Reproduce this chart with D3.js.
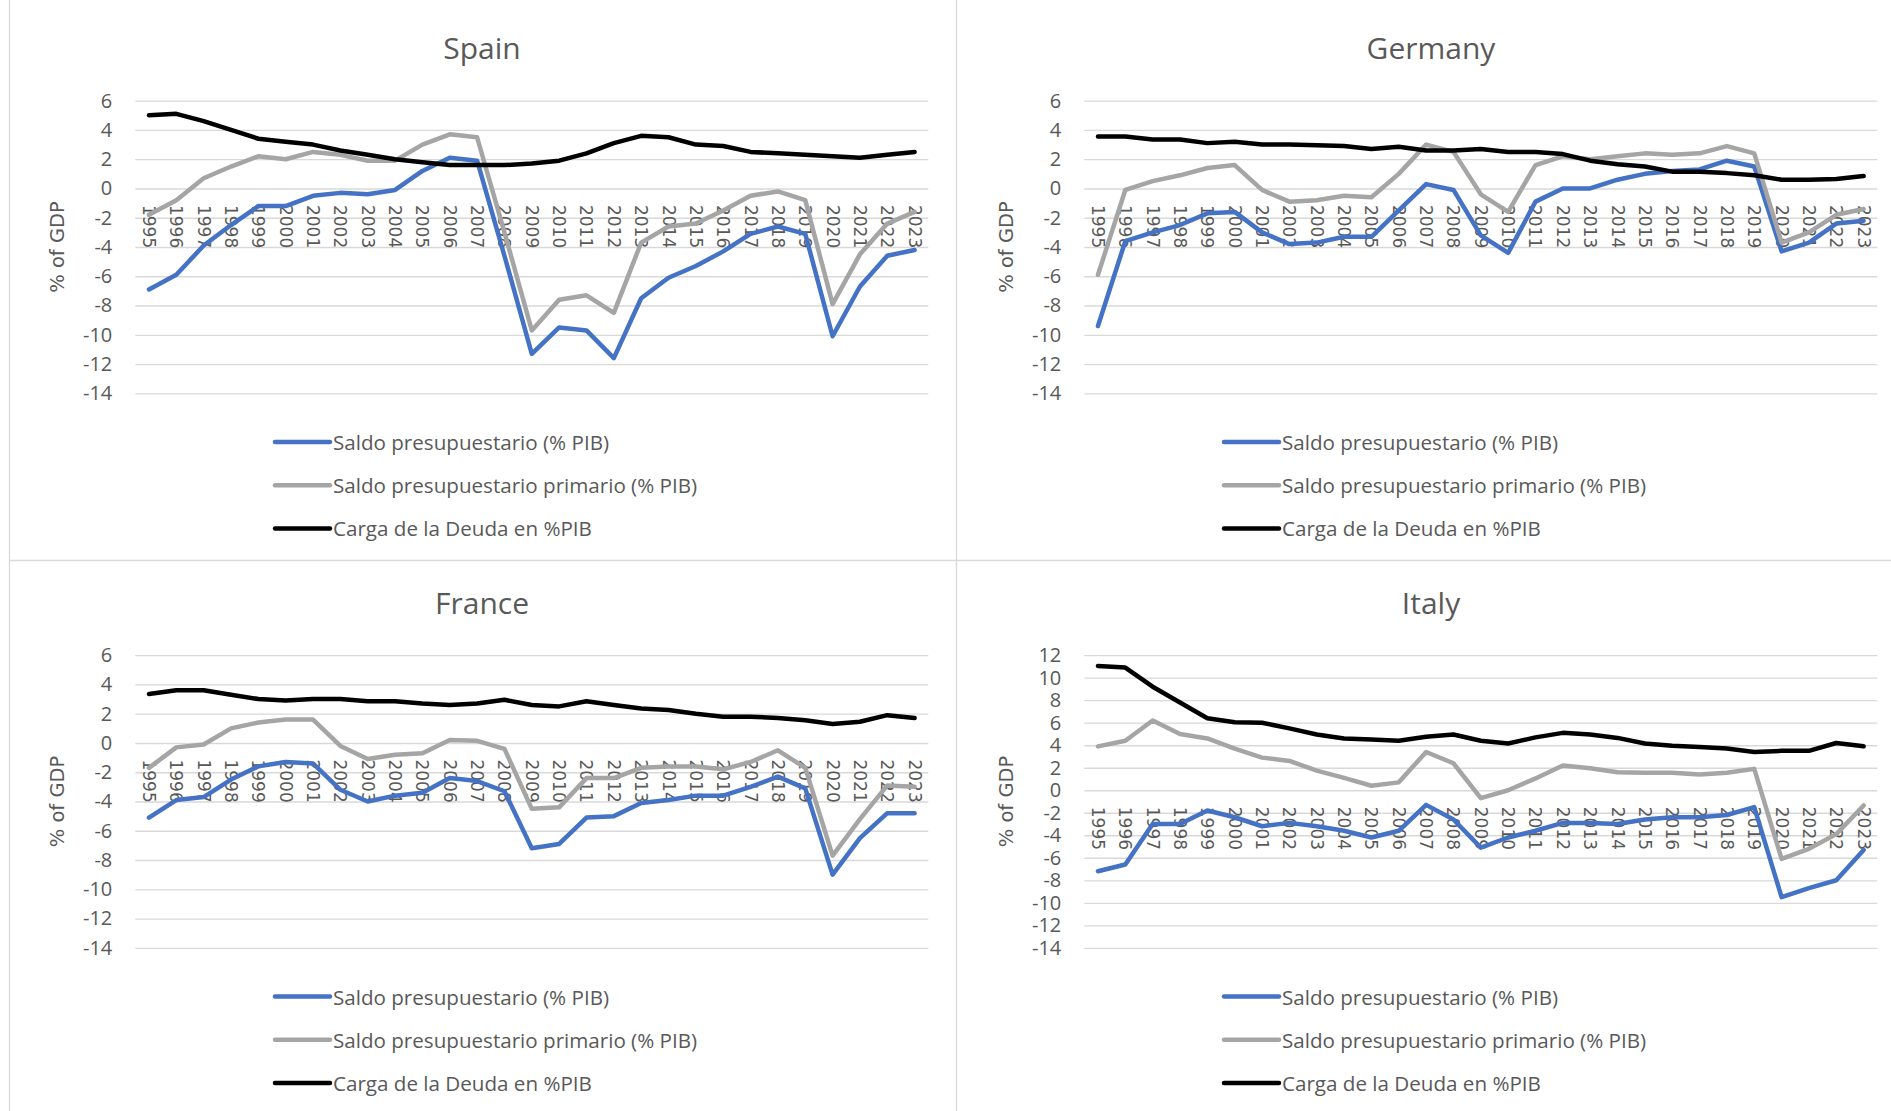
<!DOCTYPE html>
<html>
	<head>
		<meta charset="utf-8">
		<style type="text/css">
			body { margin: 0; background: white; }
			svg  { display: block; }
		</style>
		<title>Saldo presupuestario</title>
	</head>
	<body>
		<script src="https://cdn.jsdelivr.net/npm/d3@7"></script>
		<script>

// data ////////////////////////////////////////////////////////////////////

var years = d3.range(1995, 2024).map(String);

var seriesNames = [
	'Saldo presupuestario (% PIB)',
	'Saldo presupuestario primario (% PIB)',
	'Carga de la Deuda en %PIB',
];

var spainSaldo    = [-6.9, -5.9, -3.9, -2.5, -1.2, -1.2, -0.5, -0.3, -0.4, -0.1, 1.2, 2.1, 1.9, -4.6, -11.3, -9.5, -9.7, -11.6, -7.5, -6.1, -5.3, -4.3, -3.1, -2.6, -3.1, -10.1, -6.7, -4.6, -4.2];
var spainPrimario = [-1.8, -0.8, 0.7, 1.5, 2.2, 2.0, 2.5, 2.3, 1.9, 1.9, 3.0, 3.7, 3.5, -3.0, -9.7, -7.6, -7.3, -8.5, -3.7, -2.6, -2.4, -1.5, -0.5, -0.2, -0.8, -7.9, -4.5, -2.4, -1.6];
var spainCarga    = [5.0, 5.1, 4.6, 4.0, 3.4, 3.2, 3.0, 2.6, 2.3, 2.0, 1.8, 1.6, 1.6, 1.6, 1.7, 1.9, 2.4, 3.1, 3.6, 3.5, 3.0, 2.9, 2.5, 2.4, 2.3, 2.2, 2.1, 2.3, 2.5];

var germanySaldo    = [-9.4, -3.6, -3.0, -2.5, -1.7, -1.6, -3.0, -3.8, -3.7, -3.3, -3.3, -1.5, 0.3, -0.1, -3.2, -4.4, -0.9, 0.0, 0.0, 0.6, 1.0, 1.2, 1.3, 1.9, 1.5, -4.3, -3.7, -2.4, -2.2];
var germanyPrimario = [-5.9, -0.1, 0.5, 0.9, 1.4, 1.6, -0.1, -0.9, -0.8, -0.5, -0.6, 1.0, 3.0, 2.5, -0.4, -1.6, 1.6, 2.2, 2.0, 2.2, 2.4, 2.3, 2.4, 2.9, 2.4, -3.7, -3.0, -1.8, -1.4];
var germanyCarga    = [3.55, 3.55, 3.35, 3.35, 3.1, 3.2, 3.0, 3.0, 2.95, 2.9, 2.7, 2.85, 2.6, 2.6, 2.7, 2.5, 2.5, 2.35, 1.9, 1.65, 1.5, 1.15, 1.15, 1.05, 0.9, 0.6, 0.6, 0.65, 0.85];

var franceSaldo    = [-5.1, -3.9, -3.7, -2.5, -1.6, -1.3, -1.4, -3.2, -4.0, -3.6, -3.4, -2.4, -2.6, -3.3, -7.2, -6.9, -5.1, -5.0, -4.1, -3.9, -3.6, -3.6, -3.0, -2.3, -3.1, -9.0, -6.5, -4.8, -4.8];
var francePrimario = [-1.7, -0.3, -0.1, 1.0, 1.4, 1.6, 1.6, -0.2, -1.1, -0.8, -0.7, 0.2, 0.15, -0.4, -4.5, -4.4, -2.4, -2.4, -1.7, -1.6, -1.6, -1.8, -1.3, -0.5, -1.7, -7.7, -5.2, -2.9, -3.0];
var franceCarga    = [3.35, 3.6, 3.6, 3.3, 3.0, 2.9, 3.0, 3.0, 2.85, 2.85, 2.7, 2.6, 2.7, 2.95, 2.6, 2.5, 2.85, 2.6, 2.35, 2.25, 2.0, 1.8, 1.8, 1.7, 1.55, 1.3, 1.45, 1.9, 1.7];

var italySaldo    = [-7.2, -6.6, -3.0, -3.0, -1.8, -2.4, -3.2, -2.9, -3.2, -3.6, -4.2, -3.6, -1.3, -2.6, -5.1, -4.2, -3.6, -2.9, -2.9, -3.0, -2.6, -2.4, -2.4, -2.2, -1.5, -9.5, -8.7, -8.0, -5.3];
var italyPrimario = [3.9, 4.4, 6.2, 5.0, 4.6, 3.7, 2.9, 2.6, 1.75, 1.1, 0.4, 0.7, 3.4, 2.4, -0.7, 0.0, 1.05, 2.2, 1.95, 1.6, 1.55, 1.55, 1.4, 1.55, 1.9, -6.1, -5.2, -3.9, -1.35];
var italyCarga    = [11.05, 10.9, 9.2, 7.8, 6.4, 6.05, 6.0, 5.5, 4.95, 4.6, 4.5, 4.4, 4.75, 4.95, 4.4, 4.15, 4.7, 5.1, 4.95, 4.65, 4.15, 3.95, 3.85, 3.7, 3.4, 3.5, 3.5, 4.2, 3.9];

var ticksSmall = d3.range(-14, 7, 2);
var ticksLarge = d3.range(-14, 13, 2);

var panels = [
	{title: 'Spain',   col: 0, row: 0, ticks: ticksSmall, series: [spainSaldo, spainPrimario, spainCarga]},
	{title: 'Germany', col: 1, row: 0, ticks: ticksSmall, series: [germanySaldo, germanyPrimario, germanyCarga]},
	{title: 'France',  col: 0, row: 1, ticks: ticksSmall, series: [franceSaldo, francePrimario, franceCarga]},
	{title: 'Italy',   col: 1, row: 1, ticks: ticksLarge, series: [italySaldo, italyPrimario, italyCarga]},
];

// layout ///////////////////////////////////////////////////////////////////

var width = 1891, height = 1111;
var colStep = 949, rowStep = 554.5;
var colors = ['#4472C4', '#A5A5A5', '#000000'];
var textColor = '#595959';
var gridColor = '#D9D9D9';
var sansFont = "'Open Sans', 'Noto Sans', sans-serif";

var x0 = 135.3, x1 = 928.3,
    y0 = 393.3, y1 = 100.7;

var svg = d3.select('body').append('svg')
	.attr('width', width)
	.attr('height', height);

// chart borders
svg.append('g')
	.attr('stroke', gridColor)
	.attr('stroke-width', 1.3)
	.call(g => {
		g.append('line').attr('x1', 9.5).attr('x2', 9.5).attr('y1', 0).attr('y2', height);
		g.append('line').attr('x1', 956.5).attr('x2', 956.5).attr('y1', 0).attr('y2', height);
		g.append('line').attr('x1', 9.5).attr('x2', width).attr('y1', 560.5).attr('y2', 560.5);
	});

var x = d3.scalePoint()
	.domain(years)
	.range([x0, x1])
	.padding(0.5);

panels.forEach(p => {

	var plot = svg.append('g')
		.attr('transform', `translate(${p.col * colStep},${p.row * rowStep})`);

	var y = d3.scaleLinear()
		.domain(d3.extent(p.ticks))
		.range([y0, y1]);

	// title
	plot.append('text')
		.attr('x', 482)
		.attr('y', 59)
		.attr('text-anchor', 'middle')
		.attr('font-family', sansFont)
		.attr('font-size', 30)
		.attr('fill', textColor)
		.text(p.title);

	// value axis & grid
	plot.append('g')
		.attr('transform', `translate(${x0},0)`)
		.call(d3.axisLeft(y)
			.tickValues(p.ticks)
			.tickFormat(d3.format('d'))
			.tickSize(-(x1 - x0))
			.tickPadding(23))
		.call(g => g.select('.domain').remove())
		.call(g => g.selectAll('.tick line')
			.attr('stroke', gridColor)
			.attr('stroke-width', 1.3))
		.call(g => g.selectAll('.tick text')
			.attr('fill', textColor)
			.attr('font-family', sansFont)
			.attr('font-size', 20)
			.text(d => d < 0 ? '-' + Math.abs(d) : d));

	plot.append('text')
		.attr('transform', `translate(57.5,${(y0 + y1) / 2}) rotate(-90)`)
		.attr('text-anchor', 'middle')
		.attr('dominant-baseline', 'central')
		.attr('font-family', 'DejaVu Sans')
		.attr('font-size', 19.5)
		.attr('fill', textColor)
		.text('% of GDP');

	// category labels, hanging under the zero line
	plot.append('g')
		.selectAll('text')
		.data(years)
		.join('text')
			.attr('transform', d => `translate(${x(d)},${y(0) + 16.5}) rotate(90)`)
			.attr('dominant-baseline', 'central')
			.attr('font-family', 'DejaVu Sans')
			.attr('font-size', 17)
			.attr('fill', textColor)
			.text(d => d);

	// lines
	var line = d3.line()
		.x((d, i) => x(years[i]))
		.y(d => y(d));

	plot.append('g')
		.selectAll('path')
		.data(p.series)
		.join('path')
			.attr('fill', 'none')
			.attr('stroke', (d, i) => colors[i])
			.attr('stroke-width', 4.5)
			.attr('stroke-linejoin', 'round')
			.attr('stroke-linecap', 'round')
			.attr('d', line);

	// legend
	var legend = plot.append('g')
		.selectAll('g')
		.data(seriesNames)
		.join('g')
			.attr('transform', (d, i) => `translate(275,${442 + i * 43.2})`);
	legend.append('line')
		.attr('x2', 55)
		.attr('stroke', (d, i) => colors[i])
		.attr('stroke-width', 4.5)
		.attr('stroke-linecap', 'round');
	legend.append('text')
		.attr('x', 58)
		.attr('dominant-baseline', 'central')
		.attr('font-family', sansFont)
		.attr('font-size', 20.6)
		.attr('fill', textColor)
		.text(d => d);
});

		</script>
	</body>
</html>
